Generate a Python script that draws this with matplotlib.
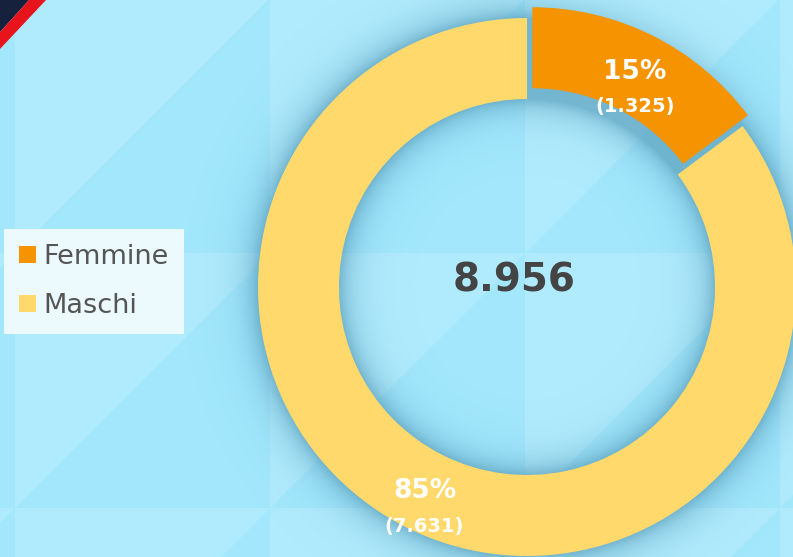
import numpy as np
import matplotlib.pyplot as plt
from matplotlib.patches import Polygon

# data
categorie = ['Femmine', 'Maschi']
valori = [1325, 7631]
valori_label = ['1.325', '7.631']
totale_label = '8.956'
colori = ['#F59300', '#FFD96C']

W, H = 793, 557
cx, cy = 527, H - 287
R, R_in = 269, 188

fig = plt.figure(figsize=(W / 100, H / 100), dpi=100)
fig.patch.set_facecolor('#A2E7FC')
ax = fig.add_axes([0, 0, 1, 1])

# faceted background: lighter upper-left triangle in each square
light = '#B0EBFD'
for x0 in range(-240, W, 255):
    for y0 in range(-2, H, 255):
        tri = [(x0, H - y0), (x0 + 255, H - y0), (x0, H - (y0 + 255))]
        ax.add_patch(Polygon(tri, closed=True, fc=light, ec='none', zorder=0))

# corner ribbon
ax.add_patch(Polygon([(0, H), (29, H), (0, H - 32)], fc='#16213E', ec='none', zorder=1))
ax.add_patch(Polygon([(29, H), (46, H), (0, H - 49), (0, H - 32)], fc='#E8141B', ec='none', zorder=1))

# soft shadow around the ring
yy, xx = np.mgrid[0:H, 0:W]
rr = np.hypot(xx + 0.5 - cx, (H - yy - 0.5) - cy)
d = np.maximum(np.maximum(rr - R, R_in - rr), 0)
shadow = np.zeros((H, W, 4))
shadow[..., 0] = 0.30
shadow[..., 1] = 0.58
shadow[..., 2] = 0.70
shadow[..., 3] = 0.6 * np.exp(-d / 15.0)
ax.imshow(shadow, extent=(0, W, 0, H), origin='upper', zorder=2, interpolation='bilinear')

wedges, _ = ax.pie(valori, colors=colori, radius=R, center=(cx, cy), startangle=90,
                   counterclock=False, explode=[12, 0], frame=True,
                   wedgeprops=dict(width=R - R_in, linewidth=0, zorder=3))

tot = sum(valori)
for w, v, lab in zip(wedges, valori, valori_label):
    ang = np.deg2rad((w.theta1 + w.theta2) / 2)
    rl = R * 0.85
    x = w.center[0] + rl * np.cos(ang)
    y = w.center[1] + rl * np.sin(ang)
    ax.text(x, y, f'{round(v / tot * 100)}%', color='white', fontsize=19,
            fontweight='bold', ha='center', va='center', zorder=5)
    ax.text(x, y - 35, f'({lab})', color='white', fontsize=14,
            fontweight='bold', ha='center', va='center', zorder=5)

ax.text(cx - 13, cy + 7, totale_label, color='#444444', fontsize=28,
        fontweight='bold', ha='center', va='center', zorder=5)

leg = ax.legend(wedges, categorie, loc='upper left', bbox_to_anchor=(4 / W, 1 - 229 / H),
                bbox_transform=fig.transFigure, frameon=True, fancybox=False,
                framealpha=1, facecolor='#ECFAFE', edgecolor='none',
                prop={'size': 19.5}, handlelength=0.62, handleheight=0.62,
                handletextpad=0.3, labelspacing=0.85, borderpad=0.55, borderaxespad=0)
leg.set_zorder(6)
for t in leg.get_texts():
    t.set_color('#555555')

ax.set_xlim(0, W)
ax.set_ylim(0, H)
ax.set_aspect('auto')
ax.axis('off')

fig.savefig('out.png', dpi=100, facecolor=fig.get_facecolor())
